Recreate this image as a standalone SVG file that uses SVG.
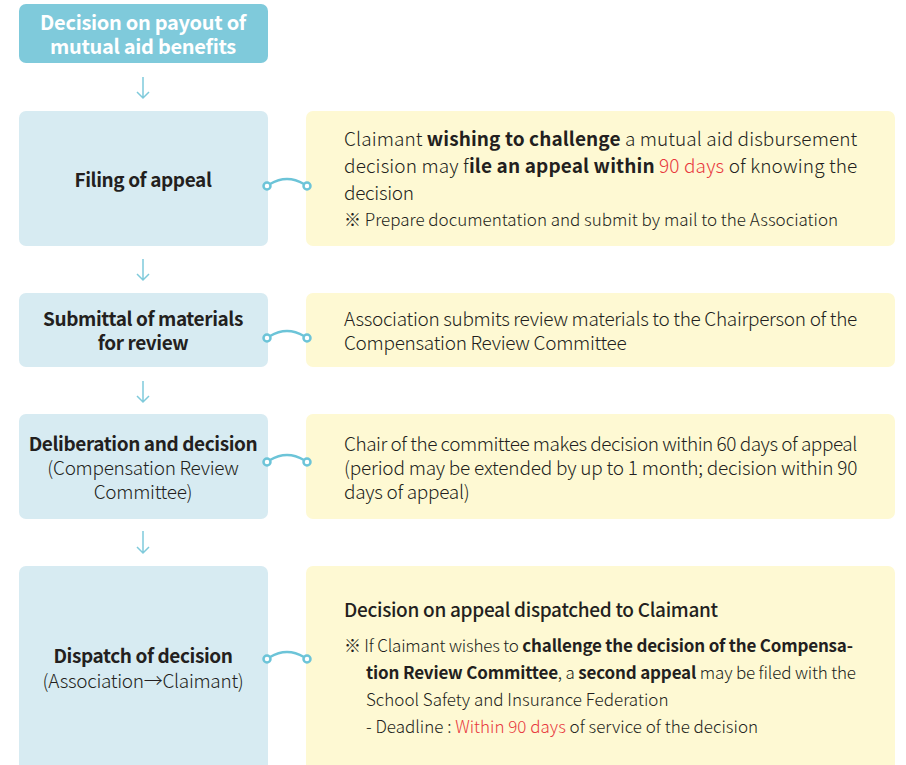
<svg xmlns="http://www.w3.org/2000/svg" width="906" height="765" viewBox="0 0 906 765">
<style>
text{font-family:"Noto Sans CJK KR","Noto Sans",sans-serif;fill:#231f20}
.top{fill:#7fcadb}
.step{fill:#d7ebf2}
.note{fill:#fef9d3}
.t{font-size:20px;font-weight:700;fill:#fff;text-anchor:middle;letter-spacing:-0.3px}
.h{font-size:19px;font-weight:700;text-anchor:middle;letter-spacing:-0.4px}
.hs{font-weight:300;letter-spacing:-0.3px}
.b{font-size:19px;font-weight:300;letter-spacing:-0.3px}
.s{font-size:17px;font-weight:300;letter-spacing:0px}
.bold{font-weight:700}
.red{fill:#e8383d}
.arr{fill:none;stroke:#7fcadb;stroke-width:1.5}
.con{fill:none;stroke:#6cc4d8;stroke-width:2.5}
.dot{fill:#fff;stroke:#6cc4d8;stroke-width:2.5}
</style>
<g id="start">
<rect class="top" x="19" y="4" width="249" height="59" rx="7"/>
<text class="t" x="143" y="30">Decision on payout of<tspan x="143" dy="24">mutual aid benefits</tspan></text>
</g>
<g id="step1">
<rect class="step" x="19" y="111" width="249" height="135" rx="7"/>
<text class="h" x="143" y="187">Filing of appeal</text>
</g>
<g id="note1">
<rect class="note" x="306" y="111" width="589" height="135" rx="7"/>
<text class="b" x="344" y="146" textLength="513" lengthAdjust="spacing">Claimant <tspan class="bold">wishing to challenge</tspan> a mutual aid disbursement</text>
<text class="b" x="344" y="173" textLength="513" lengthAdjust="spacing">decision may f<tspan class="bold">ile an appeal within</tspan> <tspan class="red">90 days</tspan> of knowing the</text>
<text class="b" x="344" y="200">decision</text>
<text class="s" x="344" y="226">※ Prepare documentation and submit by mail to the Association</text>
</g>
<g id="step2">
<rect class="step" x="19" y="293" width="249" height="74" rx="7"/>
<text class="h" x="143" y="326">Submittal of materials<tspan x="143" dy="24">for review</tspan></text>
</g>
<g id="note2">
<rect class="note" x="306" y="293" width="589" height="74" rx="7"/>
<text class="b" x="344" y="326" textLength="513" lengthAdjust="spacing">Association submits review materials to the Chairperson of the</text>
<text class="b" x="344" y="350">Compensation Review Committee</text>
</g>
<g id="step3">
<rect class="step" x="19" y="414" width="249" height="105" rx="7"/>
<text class="h" x="143" y="451">Deliberation and decision<tspan class="hs" x="143" dy="24">(Compensation Review</tspan><tspan class="hs" x="143" dy="24">Committee)</tspan></text>
</g>
<g id="note3">
<rect class="note" x="306" y="414" width="589" height="105" rx="7"/>
<text class="b" x="344" y="451" textLength="513" lengthAdjust="spacing">Chair of the committee makes decision within 60 days of appeal</text>
<text class="b" x="344" y="475" textLength="513" lengthAdjust="spacing">(period may be extended by up to 1 month; decision within 90</text>
<text class="b" x="344" y="499">days of appeal)</text>
</g>
<g id="step4">
<rect class="step" x="19" y="566" width="249" height="210" rx="7"/>
<text class="h" x="143" y="663">Dispatch of decision<tspan class="hs" x="143" dy="25">(Association→Claimant)</tspan></text>
</g>
<g id="note4">
<rect class="note" x="306" y="566" width="589" height="210" rx="7"/>
<text class="b" x="344" y="617" style="font-weight:500">Decision on appeal dispatched to Claimant</text>
<text class="s" x="344" y="652" textLength="509" lengthAdjust="spacing">※ If Claimant wishes to <tspan class="bold">challenge the decision of the Compensa-</tspan></text>
<text class="s" x="366" y="679" textLength="490" lengthAdjust="spacing"><tspan class="bold">tion Review Committee</tspan>, a <tspan class="bold">second appeal</tspan> may be filed with the</text>
<text class="s" x="366" y="706">School Safety and Insurance Federation</text>
<text class="s" x="366" y="733">- Deadline : <tspan class="red">Within 90 days</tspan> of service of the decision</text>
</g>
<g id="connectors">
<path class="arr" d="M143 77V98M137 92L143 98L149 92"/>
<path class="arr" d="M143 259V280M137 274L143 280L149 274"/>
<path class="arr" d="M143 381V402M137 396L143 402L149 396"/>
<path class="arr" d="M143 531V553M137 547L143 553L149 547"/>
<path class="con" d="M270 184Q287 174 304 184"/>
<circle class="dot" cx="267" cy="186" r="3.5"/><circle class="dot" cx="307" cy="186" r="3.5"/>
<path class="con" d="M270 336Q287 326 304 336"/>
<circle class="dot" cx="267" cy="338" r="3.5"/><circle class="dot" cx="307" cy="338" r="3.5"/>
<path class="con" d="M270 460Q287 450 304 460"/>
<circle class="dot" cx="267" cy="462" r="3.5"/><circle class="dot" cx="307" cy="462" r="3.5"/>
<path class="con" d="M270 657Q287 647 304 657"/>
<circle class="dot" cx="267" cy="659" r="3.5"/><circle class="dot" cx="307" cy="659" r="3.5"/>
</g>
</svg>
